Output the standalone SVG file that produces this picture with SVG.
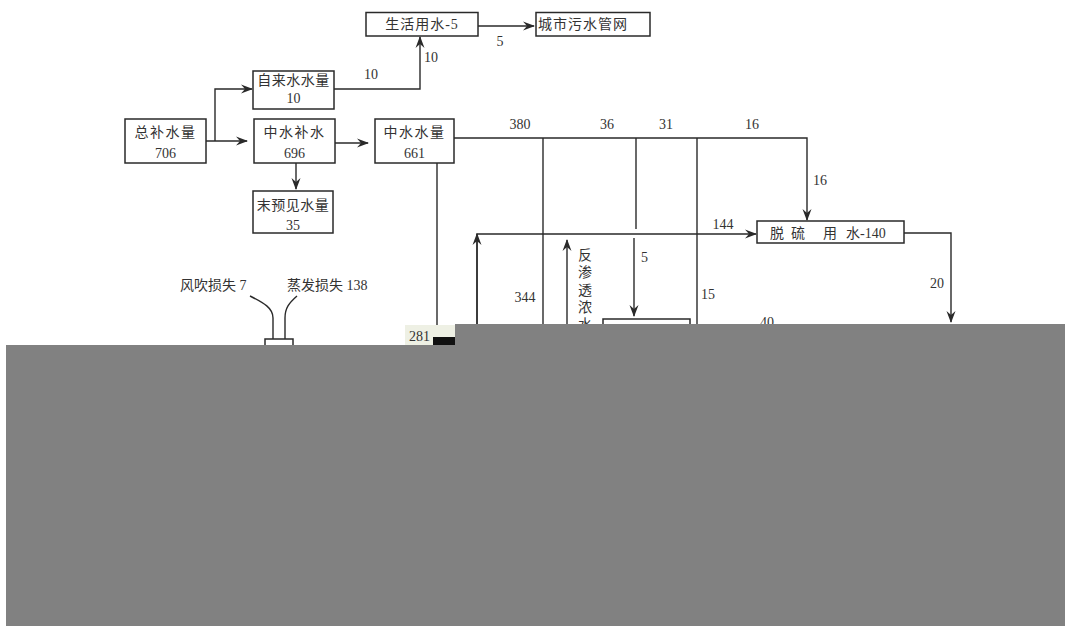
<svg xmlns="http://www.w3.org/2000/svg" width="1065" height="630" viewBox="0 0 1065 630">
<style>
.box{fill:#fff;stroke:#2a2a2a;stroke-width:1.5}
.ln{fill:none;stroke:#2a2a2a;stroke-width:1.4}
.t{font-family:"Liberation Serif","Noto Sans CJK SC",serif;font-size:14px;fill:#333}
.c{text-anchor:middle}
.mask{fill:#818181}
</style>
<defs>
<marker id="ah" viewBox="0 0 12 10" refX="11" refY="5" markerWidth="12" markerHeight="10" markerUnits="userSpaceOnUse" orient="auto">
<path d="M0,0.5 L12,5 L0,9.5 L4,5 Z" fill="#2a2a2a"/>
</marker>
</defs>
<rect width="1065" height="630" fill="#fff"/>

<g id="connectors">
<path class="ln" d="M206,141 H247" marker-end="url(#ah)"/>
<path class="ln" d="M215,141 V89 H252" marker-end="url(#ah)"/>
<path class="ln" d="M334,89 H420 V37" marker-end="url(#ah)"/>
<path class="ln" d="M478,26 H534" marker-end="url(#ah)"/>
<path class="ln" d="M335,143 H368" marker-end="url(#ah)"/>
<path class="ln" d="M296,163 V189" marker-end="url(#ah)"/>
<path class="ln" d="M454,138 H807 V220" marker-end="url(#ah)"/>
<path class="ln" d="M543,138 V326"/>
<path class="ln" d="M636,138 V229"/>
<path class="ln" d="M697,138 V326"/>
<path class="ln" d="M437,163 V326"/>
<path class="ln" d="M477,326 V234 H756" marker-end="url(#ah)"/>
<path class="ln" d="M477,326 V234" marker-end="url(#ah)"/>
<path class="ln" d="M567,326 V240" marker-end="url(#ah)"/>
<path class="ln" d="M634,238 V316" marker-end="url(#ah)"/>
<path class="ln" d="M904,233 H951 V322" marker-end="url(#ah)"/>
<path class="ln" d="M250,296 C264,303 273,308 273,318 V339"/>
<path class="ln" d="M297,296 C289,303 285,308 285,318 V339"/>
</g>

<g id="n-shenghuo"><rect class="box" x="366" y="12.5" width="112" height="23.5"/><text class="t c" x="422" y="29" letter-spacing="1">生活用水-5</text></g>
<g id="n-chengshi"><rect class="box" x="536" y="12.5" width="114" height="23.5"/><text class="t" x="538" y="29" letter-spacing="1">城市污水管网</text></g>
<g id="n-zilaishui"><rect class="box" x="253" y="71" width="81" height="38"/><text class="t c" x="293.5" y="85" letter-spacing="0.5">自来水水量</text><text class="t c" x="293.5" y="103">10</text></g>
<g id="n-zongbu"><rect class="box" x="125" y="119" width="81" height="44"/><text class="t c" x="165.5" y="137" letter-spacing="1.5">总补水量</text><text class="t c" x="165.5" y="158">706</text></g>
<g id="n-zhongbu"><rect class="box" x="254" y="119" width="81" height="44"/><text class="t c" x="294.5" y="137" letter-spacing="1.5">中水补水</text><text class="t c" x="294.5" y="158">696</text></g>
<g id="n-zhongliang"><rect class="box" x="375" y="119" width="79" height="44"/><text class="t c" x="414.5" y="137" letter-spacing="1.5">中水水量</text><text class="t c" x="414.5" y="158">661</text></g>
<g id="n-moyujian"><rect class="box" x="253" y="191" width="80" height="42"/><text class="t c" x="293" y="210" letter-spacing="0.5">末预见水量</text><text class="t c" x="293" y="230">35</text></g>
<g id="n-tuoliu"><rect class="box" x="757" y="221" width="147" height="22"/><text class="t" y="238"><tspan x="770">脱</tspan><tspan x="791">硫</tspan><tspan x="823">用</tspan><tspan x="846">水-140</tspan></text></g>
<g id="n-tower"><rect class="box" x="265" y="339" width="28" height="10"/></g>
<g id="n-partial"><rect class="box" x="603" y="319" width="87" height="12"/></g>

<g id="labels">
<text class="t c" x="371" y="79">10</text>
<text class="t" x="424" y="62">10</text>
<text class="t c" x="500" y="46">5</text>
<text class="t c" x="520" y="129">380</text>
<text class="t c" x="607" y="129">36</text>
<text class="t c" x="666" y="129">31</text>
<text class="t c" x="752" y="129">16</text>
<text class="t" x="813" y="185">16</text>
<text class="t c" x="723" y="229">144</text>
<text class="t" x="641" y="262">5</text>
<text class="t c" x="525" y="302">344</text>
<text class="t" x="701" y="299">15</text>
<text class="t c" x="937" y="288">20</text>
<text class="t c" x="767" y="327">40</text>
<text class="t" x="180" y="290">风吹损失 7</text>
<text class="t" x="287" y="290">蒸发损失 138</text>
<g class="t c">
<text x="585" y="260">反</text>
<text x="585" y="277">渗</text>
<text x="585" y="295">透</text>
<text x="585" y="312">浓</text>
<text x="585" y="329">水</text>
</g>
</g>

<g id="mask">
<rect x="405" y="325" width="50" height="20" fill="#eef0e4"/>
<text class="t" x="409" y="341">281</text>
<rect x="433" y="337" width="22" height="9" fill="#111"/>
<rect class="mask" x="455" y="324" width="610" height="22"/>
<rect class="mask" x="6" y="345" width="1059" height="281"/>
</g>
</svg>
